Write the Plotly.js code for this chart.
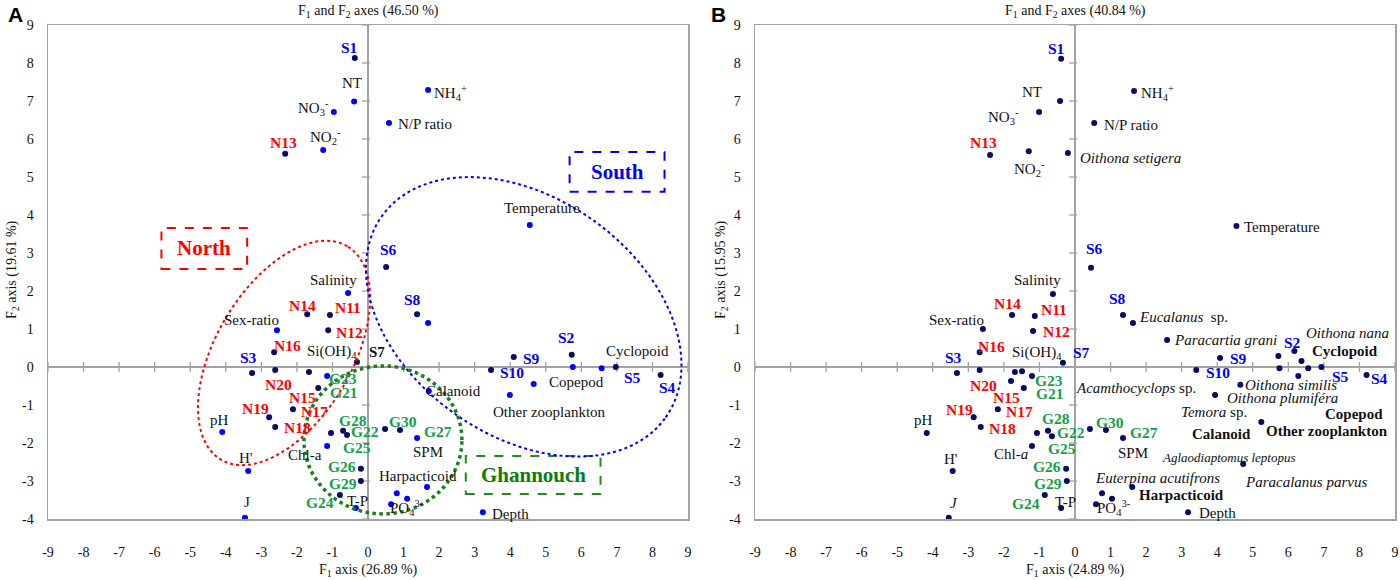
<!DOCTYPE html>
<html>
<head>
<meta charset="utf-8">
<script src="https://cdn.plot.ly/plotly-3.0.1.min.js"></script>
<style>html,body{margin:0;padding:0;background:#fff}#chart{width:1400px;height:580px}</style>
</head>
<body>
<div id="chart"></div>
<script>
// ---------- DATA ----------
const xTickVals = [-9,-8,-7,-6,-5,-4,-3,-2,-1,0,1,2,3,4,5,6,7,8,9];
const yTickVals = [-4,-3,-2,-1,0,1,2,3,4,5,6,7,8,9];

// Panel A: points (id, F1, F2, kind: 0 = observation, 1 = variable)
const aIds  = ['S1','NT','NO3','NO2','N13','NH4','NP','Temp','S6','S8','S8b','Sal','N14','N11','N12','Sex','N16','S7','S3','N20','p1','G23','G21','N15','N19','N18','pH','H','J','Chl','p2','G28','G22','G26','G29','G24','TP','p3','G30','SPM','Harp','p4','p5','PO4','Depth','Cal','S9','S2','p6','S5','Cyc','S4','S10','Cop','OZ'];
const aF1   = [-0.37,-0.39,-0.96,-1.26,-2.33,1.69,0.59,4.55,0.51,1.38,1.69,-0.56,-1.71,-1.07,-1.12,-2.56,-2.64,-0.31,-3.26,-2.61,-1.66,-1.15,-1.40,-2.11,-2.78,-2.61,-4.10,-3.37,-3.46,-1.15,-1.04,-0.70,-0.59,-0.20,-0.20,-0.79,-0.34,0.48,0.90,1.38,1.66,0.81,1.10,0.65,3.23,1.71,4.10,5.73,5.76,6.57,6.97,8.23,3.46,4.66,3.99];
const aF2   = [8.13,6.99,6.71,5.71,5.61,7.29,6.42,3.74,2.63,1.39,1.16,1.95,1.39,1.37,0.97,0.97,0.39,0.13,-0.16,-0.08,-0.13,-0.24,-0.55,-1.11,-1.32,-1.58,-1.71,-2.74,-3.97,-2.08,-1.74,-1.68,-1.79,-2.68,-3.00,-3.37,-3.71,-1.63,-1.66,-1.87,-3.16,-3.32,-3.47,-3.61,-3.82,-0.63,0.26,0.32,0.00,-0.03,0.00,-0.21,-0.08,-0.45,-0.74];
const aKind = [0,1,1,1,0,1,1,1,0,0,1,1,0,0,0,1,0,0,0,0,0,1,0,0,0,0,1,1,1,1,0,0,0,0,0,0,1,0,0,1,1,1,1,1,1,1,0,0,1,1,0,0,0,1,1];

// Panel A labels (text, attached point id, style class)
const aLabText = ['S1','NT','NO<sub>3</sub><sup>-</sup>','NO<sub>2</sub><sup>-</sup>','N13','NH<sub>4</sub><sup>+</sup>','N/P ratio','Temperature','S6','S8','Salinity','N14','N11','N12','Sex-ratio','N16','Si(OH)<sub>4</sub>','S7','S3','S2','S9','S10','Cyclopoid','S5','S4','Copepod','Other zooplankton','Calanoid','N20','G23','G21','N15','N17','N19','N18','pH',"H'",'J','Chl-a','G28','G22','G25','G26','G29','G24','T-P','G30','G27','SPM','Harpacticoid','PO<sub>4</sub><sup>3-</sup>','Depth'];
const aLabPt   = ['S1','NT','NO3','NO2','N13','NH4','NP','Temp','S6','S8','Sal','N14','N11','N12','Sex','N16','S7','S7','S3','S2','S9','S10','Cyc','S5','S4','Cop','OZ','Cal','N20','G23','G21','N15','N15','N19','N18','pH','H','J','Chl','G28','G22','G22','G26','G29','G24','TP','G30','SPM','SPM','Harp','PO4','Depth'];
const aLabCls  = ['S','v','v','v','N','v','v','v','S','S','v','N','N','N','v','N','v','k','S','S','S','S','v','S','S','v','v','v','N','G','G','N','N','N','N','v','v','v','v','G','G','G','G','G','G','v','G','G','v','v','v','v'];

// Panel B: points
const bIds  = ['S1','NT','NO3','NH4','NP','N13','NO2','Oset','Temp','S6','Sal','S8','Euc','N14','N11','N12','Sex','N16','S7','S3','N20','p1','p1b','G23','p0','G21','N15','N19','N18','pH','H','J','Chl','p2','G28','G22','G26','G29','G24','TP','p3','G30','SPM','Eut','p4','p5','PO4','Depth','Par','S9','S10','q1','S2','q2','q3','q4','Cyc','q5','S4','Osim','Oplu','OZ','Agl'];
const bF1   = [-0.39,-0.42,-1.01,1.66,0.54,-2.39,-1.30,-0.20,4.54,0.45,-0.62,1.35,1.63,-1.77,-1.13,-1.18,-2.59,-2.68,-0.34,-3.32,-2.68,-1.69,-1.49,-1.21,-1.80,-1.44,-2.17,-2.85,-2.65,-4.17,-3.44,-3.55,-1.21,-1.07,-0.76,-0.65,-0.25,-0.23,-0.85,-0.39,0.42,0.87,1.35,1.61,0.76,1.04,0.59,3.18,2.59,4.08,3.41,5.72,6.17,6.37,5.75,6.56,6.93,6.28,8.20,4.65,3.94,5.24,4.73];
const bF2   = [8.11,7.00,6.71,7.26,6.42,5.58,5.68,5.63,3.71,2.61,1.92,1.37,1.16,1.37,1.34,0.95,1.00,0.39,0.11,-0.16,-0.08,-0.13,-0.11,-0.24,-0.37,-0.55,-1.11,-1.32,-1.58,-1.74,-2.74,-3.97,-2.08,-1.74,-1.68,-1.82,-2.68,-3.00,-3.37,-3.71,-1.63,-1.66,-1.87,-3.16,-3.32,-3.47,-3.61,-3.82,0.71,0.24,-0.08,0.29,0.42,0.16,-0.03,-0.03,0.00,-0.24,-0.21,-0.47,-0.74,-1.45,-2.55];

const bLabText = ['S1','NT','NO<sub>3</sub><sup>-</sup>','NH<sub>4</sub><sup>+</sup>','N/P ratio','N13','NO<sub>2</sub><sup>-</sup>','Oithona setigera','Temperature','S6','Salinity','S8','<i>Eucalanus</i>  sp.','N14','N11','N12','Sex-ratio','N16','Si(OH)<sub>4</sub>','S7','S3','N20','G23','G21','<i>Acamthocyclops</i> sp.','N15','N17','N19','N18','pH',"H'",'<i>J</i>','Chl-<i>a</i>','G28','G22','G25','G26','G29','G24','T-P','G30','G27','SPM','Euterpina acutifrons','Harpacticoid','PO<sub>4</sub><sup>3-</sup>','Depth','Paracartia grani','S9','S10','S2','Oithona nana','Cyclopoid','S5','S4','Oithona similis','Oithona plumiféra','<i>Temora</i> sp.','Copepod','Other zooplankton','Calanoid','Aglaodiaptomus leptopus','Paracalanus parvus'];
const bLabPt   = ['S1','NT','NO3','NH4','NP','N13','NO2','Oset','Temp','S6','Sal','S8','Euc','N14','N11','N12','Sex','N16','S7','S7','S3','N20','G23','G21','G21','N15','N15','N19','N18','pH','H','J','Chl','G28','G22','G22','G26','G29','G24','TP','G30','SPM','SPM','Eut','Eut','PO4','Depth','Par','S9','S10','S2','S2','Cyc','Cyc','S4','Osim','Oplu','Oplu','OZ','OZ','OZ','Agl','Agl'];
const bLabCls  = ['S','v','v','v','v','N','v','i','v','S','v','S','v','N','N','N','v','N','v','S','S','N','G','G','v','N','N','N','N','v','v','v','v','G','G','G','G','G','G','v','G','G','v','i','k','v','v','i','S','S','S','i','k','S','S','i','i','v','k','k','k','sm','i'];

// ---------- LAYOUT HELPERS (label offsets in pixels: right, down) ----------
const aLabDx = [-6,-2,-20,2,-2,22,36,12,2,-5,-15,-5,18,21,-25,13,-25,20,-4,-5,18,21,22,31,7,43,40,25,3,16,26,10,22,-14,22,-3,-2,2,-22,10,18,10,-19,-18,-20,2,3,21,11,-9,16,28];
const aLabDy = [-11,-18,-4,-13,-11,3,1,-17,-18,-15,-13,-9,-7,2,-10,-7,-10,-10,-16,-17,1,2,-16,9,13,-2,17,0,14,2,5,-12,2,-9,0,-12,-13,-16,9,-10,-4,12,-2,2,7,-7,-9,-7,14,-11,4,2];
const bLabDx = [-5,-28,-36,23,37,-7,1,63,46,3,-15,-6,51,-5,19,23,-26,12,-26,19,-3,4,17,26,112,9,22,-14,22,-3,-2,5,-21,8,19,10,-19,-19,-19,4,4,21,10,25,49,18,29,58,18,22,-2,53,24,19,13,51,67,-1,93,66,-40,-14,63];
const bLabDy = [-10,-9,5,2,2,-12,18,5,1,-19,-14,-16,-6,-11,-7,1,-9,-6,-10,-10,-16,15,4,6,0,-12,2,-8,1,-13,-12,-15,8,-12,-4,12,-2,2,8,-6,-8,-6,15,-9,8,4,1,0,1,2,-9,-18,-16,9,4,0,3,17,-8,9,12,-6,18];

const FONT = 'Liberation Serif, Times New Roman, serif';
const C_DARK = '#0a0a66', C_BLUE = '#0000ff', C_RED = '#ff0000', C_GREEN = '#12a04a', C_GRAY = '#a3a3a3';
const styles = {
  S:  {color:C_BLUE, size:15.5, weight:'bold', style:'normal'},
  N:  {color:C_RED, size:15.5, weight:'bold', style:'normal'},
  G:  {color:C_GREEN, size:15.5, weight:'bold', style:'normal'},
  v:  {color:'#111', size:15, weight:'normal', style:'normal'},
  k:  {color:'#111', size:15, weight:'bold', style:'normal'},
  i:  {color:'#111', size:15, weight:'normal', style:'italic'},
  sm: {color:'#111', size:13, weight:'normal', style:'italic'}
};

// plot geometry (pixels)
const W = 1400, H = 580, T = 25, B = 61;
const PH = H - T - B;
const domA = [48/W, 688/W], domB = [755/W, 1395/W];
const pxPerUnitX = 640/18, pxPerUnitY = PH/13;

const traces = [];
function addPoints(ids, xs, ys, kinds, xa, ya, darkOnly) {
  const dark = {x:[], y:[]}, blue = {x:[], y:[]};
  for (let i = 0; i < ids.length; i++) {
    const t = (darkOnly || !kinds || kinds[i] === 0) ? dark : blue;
    t.x.push(xs[i]); t.y.push(ys[i]);
  }
  traces.push({type:'scatter', mode:'markers', x:dark.x, y:dark.y, xaxis:xa, yaxis:ya,
    marker:{color:C_DARK, size:6}, hoverinfo:'skip', showlegend:false});
  if (blue.x.length) traces.push({type:'scatter', mode:'markers', x:blue.x, y:blue.y, xaxis:xa, yaxis:ya,
    marker:{color:C_BLUE, size:6}, hoverinfo:'skip', showlegend:false});
}
addPoints(aIds, aF1, aF2, aKind, 'x', 'y', false);
addPoints(bIds, bF1, bF2, null, 'x2', 'y2', true);

const annotations = [];
function addLabels(texts, pts, cls, dxs, dys, ids, xs, ys, xr, yr) {
  for (let i = 0; i < texts.length; i++) {
    const k = ids.indexOf(pts[i]);
    const st = styles[cls[i]];
    annotations.push({xref:xr, yref:yr, x:xs[k], y:ys[k], text:texts[i], showarrow:false,
      xshift:dxs[i], yshift:-dys[i], xanchor:'center', yanchor:'middle',
      font:{family:FONT, size:st.size, color:st.color, weight:st.weight, style:st.style}});
  }
}
addLabels(aLabText, aLabPt, aLabCls, aLabDx, aLabDy, aIds, aF1, aF2, 'x', 'y');
addLabels(bLabText, bLabPt, bLabCls, bLabDx, bLabDy, bIds, bF1, bF2, 'x2', 'y2');

// titles
function paperY(py) { return (H - B - py) / PH; }
const titles = [
  {x:(domA[0]+domA[1])/2, py:11, text:'F<sub>1</sub> and F<sub>2</sub> axes (46.50 %)'},
  {x:(domB[0]+domB[1])/2, py:11, text:'F<sub>1</sub> and F<sub>2</sub> axes (40.84 %)'},
  {x:(domA[0]+domA[1])/2, py:570, text:'F<sub>1</sub> axis (26.89 %)'},
  {x:(domB[0]+domB[1])/2, py:570, text:'F<sub>1</sub> axis (24.89 %)'}
];
titles.forEach(t => annotations.push({xref:'paper', yref:'paper', x:t.x, y:paperY(t.py), text:t.text,
  showarrow:false, xanchor:'center', yanchor:'middle', font:{family:FONT, size:14, color:'#111'}}));
[[12/W,'F<sub>2</sub> axis (19.61 %)'],[721/W,'F<sub>2</sub> axis (15.95 %)']].forEach(t =>
  annotations.push({xref:'paper', yref:'paper', x:t[0], y:paperY(270), text:t[1], textangle:-90,
    showarrow:false, xanchor:'center', yanchor:'middle', font:{family:FONT, size:14, color:'#111'}}));
[[15/W,'A'],[718/W,'B']].forEach(t =>
  annotations.push({xref:'paper', yref:'paper', x:t[0], y:paperY(15), text:t[1], showarrow:false,
    xanchor:'center', yanchor:'middle', font:{family:'Liberation Sans, Arial, sans-serif', size:21, color:'#000', weight:'bold'}}));

// group boxes (panel A)
const boxes = [
  {x0:5.67, x1:8.34, y0:4.61, y1:5.66, text:'South', color:C_BLUE, tcolor:C_BLUE},
  {x0:-5.81, x1:-3.40, y0:2.58, y1:3.66, text:'North', color:C_RED, tcolor:C_RED},
  {x0:2.75, x1:6.54, y0:-3.34, y1:-2.34, text:'Ghannouch', color:'#1e8c1e', tcolor:'#0b7d0b'}
];
const shapes = [];
boxes.forEach(b => {
  shapes.push({type:'rect', xref:'x', yref:'y', x0:b.x0, x1:b.x1, y0:b.y0, y1:b.y1,
    line:{color:b.color, width:2, dash:'dash'}, fillcolor:'rgba(0,0,0,0)'});
  annotations.push({xref:'x', yref:'y', x:(b.x0+b.x1)/2, y:(b.y0+b.y1)/2, text:b.text, showarrow:false,
    xanchor:'center', yanchor:'middle', font:{family:FONT, size:21, color:b.tcolor, weight:'bold'}});
});

// group ellipses (panel A): centre in data units, semi-axes in px, angle in degrees
const ellipses = [
  {cx:-2.36, cy:0.37, a:124, b:68, ang:59.4, color:C_RED, width:2},
  {cx:4.38, cy:1.32, a:174, b:119, ang:-35.3, color:C_BLUE, width:2},
  {cx:0.42, cy:-1.92, a:79, b:74, ang:0, color:'#1a7f1a', width:3.5}
];
ellipses.forEach(e => {
  const th = e.ang * Math.PI / 180;
  let d = '';
  for (let k = 0; k <= 120; k++) {
    const p = 2 * Math.PI * k / 120;
    const u = e.a * Math.cos(p), v = e.b * Math.sin(p);
    const px = u * Math.cos(th) - v * Math.sin(th);
    const py = u * Math.sin(th) + v * Math.cos(th);
    const X = e.cx + px / pxPerUnitX, Y = e.cy + py / pxPerUnitY;
    d += (k === 0 ? 'M' : 'L') + X.toFixed(4) + ',' + Y.toFixed(4);
  }
  shapes.push({type:'path', xref:'x', yref:'y', path:d + 'Z', line:{color:e.color, width:e.width, dash:'dot'}});
});

// tick marks on the zero lines
[['x','y'],['x2','y2']].forEach(r => {
  xTickVals.forEach(v => shapes.push({type:'line', xref:r[0], yref:r[1], x0:v, x1:v,
    ysizemode:'pixel', yanchor:0, y0:-5, y1:5, line:{color:C_GRAY, width:1.3}, layer:'below'}));
  yTickVals.forEach(v => shapes.push({type:'line', xref:r[0], yref:r[1], y0:v, y1:v,
    xsizemode:'pixel', xanchor:0, x0:-6, x1:2, line:{color:C_GRAY, width:1.3}, layer:'below'}));
});

function xAxis(dom, anchor) {
  return {domain:dom, anchor:anchor, range:[-9,9], tickvals:xTickVals, ticktext:xTickVals.map(String),
    ticks:'', showgrid:false, zeroline:true, zerolinecolor:C_GRAY, zerolinewidth:1.5,
    showline:true, mirror:true, linecolor:C_GRAY, linewidth:1.5, ticklabelstandoff:20,
    ticklabeloverflow:'allow', automargin:false,
    tickfont:{family:FONT, size:14, color:'#111'}, fixedrange:true};
}
function yAxis(anchor) {
  return {domain:[0,1], anchor:anchor, range:[-4,9], tickvals:yTickVals, ticktext:yTickVals.map(String),
    ticks:'', showgrid:false, zeroline:true, zerolinecolor:C_GRAY, zerolinewidth:1.5,
    showline:true, mirror:true, linecolor:C_GRAY, linewidth:1.5, ticklabelstandoff:10,
    ticklabeloverflow:'allow', automargin:false,
    tickfont:{family:FONT, size:14, color:'#111'}, fixedrange:true};
}

const layout = {
  width:W, height:H, margin:{l:0, r:0, t:T, b:B}, paper_bgcolor:'#fff', plot_bgcolor:'#fff',
  showlegend:false, hovermode:false,
  xaxis:xAxis(domA,'y'), yaxis:yAxis('x'),
  xaxis2:xAxis(domB,'y2'), yaxis2:yAxis('x2'),
  shapes:shapes, annotations:annotations
};
Plotly.newPlot('chart', traces, layout, {displayModeBar:false, staticPlot:true});
</script>
</body>
</html>
